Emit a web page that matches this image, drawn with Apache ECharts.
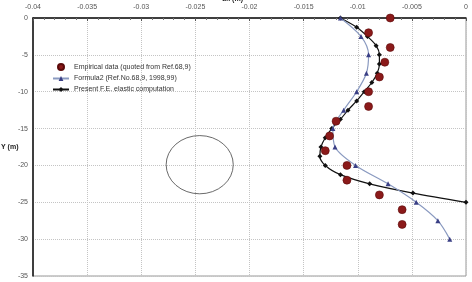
<!DOCTYPE html>
<html>
<head>
<meta charset="utf-8">
<script src="https://cdn.jsdelivr.net/npm/echarts@6/dist/echarts.min.js"></script>
<style>
html,body{margin:0;padding:0;background:#fff;}
#c{width:472px;height:282px;}
</style>
</head>
<body>
<div id="c"></div>
<script>
// Empirical data (quoted from Ref.68,9)
var empY = [0, -2, -4, -6, -8, -10, -12, -14, -16, -18, -20, -22, -24, -26, -28];
var empX = [-0.0070, -0.0090, -0.0070, -0.0075, -0.0080, -0.0090, -0.0090, -0.0120, -0.0126, -0.0130, -0.0110, -0.0110, -0.0080, -0.0059, -0.0059];
// Formula2
var frmY = [0, -2.5, -5, -7.5, -10, -12.5, -15, -17.5, -20, -22.5, -25, -27.5, -30];
var frmX = [-0.0116, -0.0097, -0.0090, -0.0092, -0.0101, -0.0113, -0.0123, -0.0121, -0.0102, -0.0072, -0.0046, -0.0026, -0.0015];
// Present F.E. elastic computation
var feY = [0, -1.25, -2.5, -3.75, -5, -6.25, -7.5, -8.75, -10, -11.25, -12.5, -13.75, -15, -16.25, -17.5, -18.75, -20, -21.25, -22.5, -23.75, -25];
var feX = [-0.0116, -0.0101, -0.0091, -0.0083, -0.0080, -0.0080, -0.0082, -0.0087, -0.0094, -0.0101, -0.0109, -0.0116, -0.0124, -0.0130, -0.0134, -0.0135, -0.0130, -0.0116, -0.0089, -0.0049, 0.0];
// Tunnel outline: centre x, centre y, half-width (x units), half-height (y units)
var tunnel = [[-0.0246, -19.9, 0.0031, 3.95]];
var xTicks = [-0.04, -0.035, -0.03, -0.025, -0.02, -0.015, -0.01, -0.005, 0];
var yTicks = [0, -5, -10, -15, -20, -25, -30, -35];
var names = ['Empirical data (quoted from Ref.68,9)', 'Formula2 (Ref.No.68,9, 1998,99)', 'Present F.E. elastic computation'];

function pairs(xs, ys){ return xs.map(function(x,i){ return [x, ys[i]]; }); }

var FONT = '"Liberation Sans", Arial, sans-serif';
var chart = echarts.init(document.getElementById('c'), null, {renderer:'canvas'});
chart.setOption({
  animation:false,
  backgroundColor:'#fff',
  textStyle:{fontFamily:FONT},
  grid:{left:33, right:6, top:18, bottom:6, show:true, borderColor:'#999', borderWidth:1},
  xAxis:{
    type:'value', position:'top', min:-0.04, max:0, interval:0.005,
    axisLine:{show:true, onZero:false, lineStyle:{color:'#111', width:1.5}},
    axisTick:{show:true, inside:true, length:3, lineStyle:{color:'#555'}},
    minorTick:{show:true, splitNumber:5, length:2, lineStyle:{color:'#777'}},
    axisLabel:{fontSize:7, color:'#555', margin:7, fontFamily:FONT,
      formatter:function(v){ var r = Math.round(v*1000)/1000; return xTicks.indexOf(r)>=0 ? String(r) : ''; }},
    splitLine:{show:true, lineStyle:{color:'#c4c4c4', type:[1,1], width:1}}
  },
  yAxis:{
    type:'value', min:-35, max:0, interval:5,
    axisLine:{show:true, onZero:false, lineStyle:{color:'#111', width:1.5}},
    axisTick:{show:false},
    axisLabel:{fontSize:7, color:'#555', margin:5, fontFamily:FONT,
      formatter:function(v){ return yTicks.indexOf(v)>=0 ? String(v) : ''; }},
    splitLine:{show:true, lineStyle:{color:'#c4c4c4', type:[1,1], width:1}}
  },
  legend:{
    orient:'vertical', left:52, top:63, itemGap:4, itemWidth:16, itemHeight:6, padding:0,
    textStyle:{fontSize:7, color:'#333', fontFamily:FONT},
    data:[{name:names[0], icon:'circle'}, {name:names[1]}, {name:names[2]}]
  },
  graphic:[
    {type:'text', left:222, top:-4, style:{text:'dx (m)', fontSize:7, fontWeight:'bold', fill:'#222', fontFamily:FONT}},
    {type:'text', left:1, top:144, style:{text:'Y (m)', fontSize:7, fontWeight:'bold', fill:'#222', fontFamily:FONT}}
  ],
  series:[
    {
      type:'custom', name:'tunnel', silent:true, z:1,
      data:tunnel,
      encode:{x:0, y:1},
      renderItem:function(params, api){
        var cx = api.value(0), cy = api.value(1), rx = api.value(2), ry = api.value(3);
        var c = api.coord([cx, cy]);
        var p = api.coord([cx + rx, cy + ry]);
        var a = Math.abs(p[0]-c[0]), b = Math.abs(c[1]-p[1]);
        var d = 'M ' + (c[0]-a) + ' ' + c[1] + ' A ' + a + ' ' + b + ' 0 1 0 ' + (c[0]+a) + ' ' + c[1] +
                ' A ' + a + ' ' + b + ' 0 1 0 ' + (c[0]-a) + ' ' + c[1] + ' Z';
        return {type:'path', shape:{pathData:d}, style:{fill:'none', stroke:'#444', lineWidth:0.8}};
      }
    },
    {
      name:names[2], type:'line', data:pairs(feX, feY), smooth:0.3, z:3,
      symbol:'diamond', symbolSize:5, showSymbol:true,
      lineStyle:{color:'#111', width:1.2},
      itemStyle:{color:'#111'}
    },
    {
      name:names[1], type:'line', data:pairs(frmX, frmY), smooth:0.3, z:4,
      symbol:'triangle', symbolSize:5, showSymbol:true,
      lineStyle:{color:'#8a9ac0', width:1.2},
      itemStyle:{color:'#3a3f85'}
    },
    {
      name:names[0], type:'scatter', data:pairs(empX, empY), z:5,
      symbol:'circle', symbolSize:8,
      itemStyle:{color:'#8b1a1a', borderColor:'#5a0a0a', borderWidth:0.6, opacity:1}
    }
  ]
});
</script>
</body>
</html>
